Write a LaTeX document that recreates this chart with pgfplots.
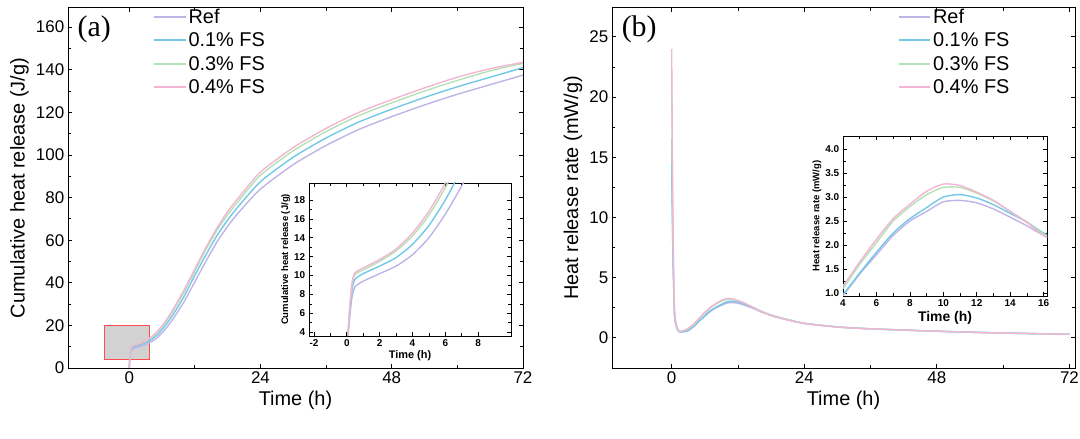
\documentclass[border=0pt]{standalone}
\usepackage{pgfplots}
\pgfplotsset{compat=1.18}
\usepackage{fontspec}
\setmainfont{Liberation Sans}
\newfontfamily\serif{Liberation Serif}
\definecolor{cref}{RGB}{190,180,230}
\definecolor{cone}{RGB}{115,200,232}
\definecolor{cthree}{RGB}{180,226,180}
\definecolor{cfour}{RGB}{242,182,212}
\pgfplotstableread{
t ref one three four
0 0 0 0 0
0.1 4 4.3 4.5 4.6
0.3 7.5 8.3 8.8 9
0.5 8.8 9.6 10.1 10.3
1 9.4 10.2 10.6 10.8
2 10.2 11 11.5 11.7
3 11 11.9 12.6 12.8
4 12.2 13.3 14.2 14.5
5 14 15.3 16.4 16.8
6 16.5 18 19.3 19.8
7 19.5 21.3 22.8 23.4
8 23 25 26.8 27.5
10 31 33.5 35.5 36.5
12 40.5 43.5 45.5 46.5
14 50 53 55.5 56.5
16 59 62 64.5 65.5
18 66.5 69.5 72 73.5
20 73 76 78.5 80
24 84 87.5 90.5 92
30 95.5 99 102 103.5
36 104.5 108 111 112.5
42 112 115.5 118.5 120
48 118 121.5 124.5 126
54 123.5 127 130 131.5
60 128.5 132 135 136.5
66 133 136.5 139.5 140.5
72 137.5 141 143 143.5
}\cum
\pgfplotstableread{
t ref one three four
0 16.5 14.5 22 24
0.2 8 7.5 10 11
0.5 2 2 2.4 2.6
1 0.7 0.7 0.75 0.8
1.5 0.5 0.5 0.55 0.55
2 0.5 0.5 0.55 0.58
3 0.6 0.62 0.75 0.8
4 0.95 0.97 1.1 1.15
5 1.4 1.42 1.6 1.65
6 1.8 1.85 2.05 2.12
7 2.2 2.25 2.5 2.55
8 2.5 2.55 2.8 2.85
9 2.7 2.78 3.05 3.12
10 2.9 3.0 3.2 3.27
11 2.93 3.05 3.2 3.24
12 2.88 2.98 3.08 3.1
13 2.75 2.84 2.92 2.93
14 2.58 2.66 2.7 2.7
15 2.4 2.48 2.48 2.47
16 2.2 2.25 2.23 2.2
18 1.85 1.9 1.88 1.86
20 1.6 1.64 1.62 1.6
24 1.2 1.22 1.21 1.2
30 0.9 0.92 0.91 0.9
36 0.75 0.76 0.75 0.75
48 0.55 0.56 0.55 0.55
60 0.4 0.41 0.4 0.4
72 0.3 0.3 0.3 0.3
}\rate
\pgfplotsset{
 every axis/.append style={scale only axis, line width=1pt, font=\fontsize{17}{19}\selectfont,
   tick style={black, line width=0.8pt}, /pgf/number format/assume math mode=true,
   /pgf/number format/1000 sep={}, tick label style={font=\fontsize{17}{19}\selectfont},
   label style={font=\fontsize{20}{22}\selectfont}},
 ser/.style={line width=1.4pt, smooth, tension=0.4},
 inset/.style={anchor=south west, tick label style={font=\bfseries\fontsize{10}{11}\selectfont},
   x label style={font=\bfseries\fontsize{11}{12}\selectfont, yshift=3pt},
   y label style={font=\bfseries\fontsize{9.5}{10}\selectfont, yshift=-3pt},
   line width=0.9pt, tick style={line width=0.6pt}, axis background/.style={fill=white}},
 leg/.style={legend style={draw=none, fill=none, font=\fontsize{20}{22}\selectfont, row sep=4pt,
   /tikz/every even column/.append style={column sep=2pt}},
   legend cell align=left, legend image post style={line width=2pt},
   legend image code/.code={\draw[##1] (0cm,0cm) -- (1.1cm,0cm);}},
}
\begin{document}
\begin{tikzpicture}
\path[use as bounding box] (0,0) rectangle (1080bp,439bp);
% (a)
\begin{axis}[at={(68bp,71bp)}, anchor=south west, width=455bp, height=360bp,
 xmin=-11.2, xmax=72, ymin=0, ymax=169, xtick={0,24,48,72}, minor xtick={12,36,60},
 ytick={0,20,...,160}, minor y tick num=1,
 xlabel={Time (h)}, ylabel={Cumulative heat release (J/g)},
 leg, legend style={at={(0.18,1.01)}, anchor=north west}]
\fill[gray!35] (axis cs:-4.6,4) rectangle (axis cs:3.7,20);
\draw[red!70, line width=0.6pt] (axis cs:-4.6,4) rectangle (axis cs:3.7,20);
\addplot[ser, cref] table[x=t,y=ref]{\cum};
\addplot[ser, cone] table[x=t,y=one]{\cum};
\addplot[ser, cthree] table[x=t,y=three]{\cum};
\addplot[ser, cfour] table[x=t,y=four]{\cum};
\legend{Ref,0.1\% FS,0.3\% FS,0.4\% FS}
\node[anchor=north west, font=\serif\fontsize{30}{32}\selectfont, inner sep=0pt] at (rel axis cs:0.02,0.98) {(a)};
\end{axis}
\begin{axis}[inset, at={(309bp,103bp)}, width=202bp, height=153bp,
 xmin=-2.3, xmax=10, ymin=3.6, ymax=19.8, xtick={-2,0,...,8}, minor x tick num=1,
 ytick={4,6,...,18}, minor y tick num=1, xlabel={Time (h)}, ylabel={Cumulative heat release (J/g)}]
\addplot[ser, cref] table[x=t,y=ref]{\cum};
\addplot[ser, cone] table[x=t,y=one]{\cum};
\addplot[ser, cthree] table[x=t,y=three]{\cum};
\addplot[ser, cfour] table[x=t,y=four]{\cum};
\end{axis}
% (b)
\begin{axis}[at={(612bp,71bp)}, anchor=south west, width=463bp, height=360bp,
 xmin=-10.8, xmax=73, ymin=-2.5, ymax=27.4, xtick={0,24,48,72}, minor xtick={12,36,60},
 ytick={0,5,...,25}, minor y tick num=1,
 xlabel={Time (h)}, ylabel={Heat release rate (mW/g)},
 leg, legend style={at={(0.61,1.01)}, anchor=north west}]
\addplot[ser, cref] table[x=t,y=ref]{\rate};
\addplot[ser, cone] table[x=t,y=one]{\rate};
\addplot[ser, cthree] table[x=t,y=three]{\rate};
\addplot[ser, cfour] table[x=t,y=four]{\rate};
\legend{Ref,0.1\% FS,0.3\% FS,0.4\% FS}
\node[anchor=north west, font=\serif\fontsize{30}{32}\selectfont, inner sep=0pt] at (rel axis cs:0.02,0.98) {(b)};
\end{axis}
\begin{axis}[inset, at={(843bp,143bp)}, width=204bp, height=160bp,
 xmin=4, xmax=16.2, ymin=0.94, ymax=4.27, xtick={4,6,...,16}, minor x tick num=1,
 ytick={1,1.5,...,4}, minor y tick num=1, yticklabel style={/pgf/number format/fixed, /pgf/number format/fixed zerofill, /pgf/number format/precision=1},
 xlabel={Time (h)}, x label style={font=\bfseries\fontsize{14}{15}\selectfont}, ylabel={Heat release rate (mW/g)}]
\addplot[ser, cref] table[x=t,y=ref]{\rate};
\addplot[ser, cone] table[x=t,y=one]{\rate};
\addplot[ser, cthree] table[x=t,y=three]{\rate};
\addplot[ser, cfour] table[x=t,y=four]{\rate};
\end{axis}
\end{tikzpicture}
\end{document}
